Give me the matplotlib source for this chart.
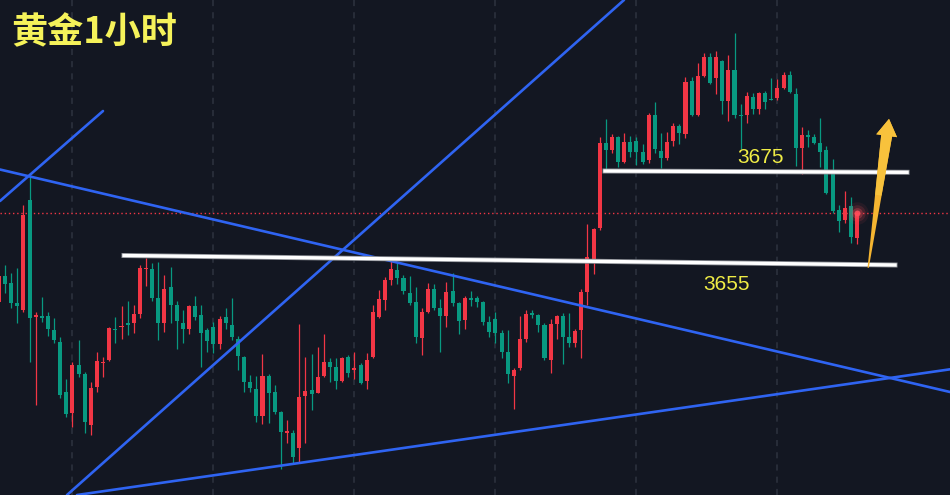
import matplotlib.pyplot as plt
import matplotlib.patheffects as pe
from matplotlib.patches import Polygon
from matplotlib.transforms import IdentityTransform
import numpy as np

# 黄金 1小时 K线 (索引 0..140)
opens = [3646.2, 3651.9, 3650.3, 3645.9, 3644.3, 3668.8, 3642.8, 3643.0, 3643.0, 3639.9,
         3637.3, 3626.0, 3621.4, 3632.1, 3630.1, 3618.8, 3627.3, 3632.5, 3633.2, 3640.2,
         3640.5, 3641.4, 3641.5, 3643.4, 3653.4, 3653.4, 3647.1, 3641.5, 3649.4, 3645.4,
         3641.4, 3640.0, 3645.2, 3643.2, 3639.9, 3640.5, 3636.8, 3642.7, 3641.0, 3637.8,
         3633.9, 3628.4, 3626.7, 3620.8, 3629.7, 3626.0, 3621.6, 3617.1, 3617.1, 3613.6,
         3625.2, 3626.5, 3625.9, 3629.7, 3632.8, 3631.6, 3628.6, 3633.8, 3631.1, 3632.1,
         3628.6, 3633.8, 3642.7, 3646.5, 3651.1, 3653.2, 3651.4, 3648.2, 3646.2, 3638.0,
         3643.9, 3648.9, 3644.7, 3643.0, 3648.5, 3645.8, 3642.1, 3646.9, 3646.9, 3646.2,
         3641.7, 3642.3, 3639.3, 3635.1, 3629.7, 3631.4, 3637.8, 3643.6, 3643.2, 3641.0,
         3633.2, 3641.2, 3643.0, 3638.4, 3637.1, 3639.9, 3648.4, 3655.6, 3662.5, 3681.5,
         3679.9, 3682.7, 3677.3, 3681.7, 3681.9, 3679.5, 3677.6, 3687.6, 3679.7, 3678.2,
         3681.9, 3685.2, 3683.4, 3695.3, 3687.6, 3696.3, 3700.6, 3695.8, 3699.7, 3690.8,
         3697.6, 3687.6, 3687.6, 3691.7, 3689.1, 3692.5, 3691.2, 3691.4, 3693.6, 3696.5,
         3692.3, 3680.3, 3683.2, 3682.7, 3681.5, 3679.9, 3675.1, 3666.5, 3664.3, 3667.4,
         3660.3]
highs = [3653.2, 3654.3, 3652.5, 3653.6, 3667.6, 3673.9, 3643.9, 3647.3, 3643.9, 3642.5,
         3638.4, 3629.1, 3632.8, 3637.7, 3630.6, 3628.4, 3635.1, 3633.8, 3640.6, 3642.8,
         3645.2, 3646.4, 3645.4, 3654.3, 3655.8, 3654.8, 3654.9, 3652.1, 3653.8, 3646.4,
         3644.3, 3645.4, 3647.4, 3645.4, 3640.3, 3641.7, 3643.0, 3644.7, 3646.9, 3638.5,
         3634.1, 3629.9, 3629.7, 3634.5, 3630.0, 3627.7, 3621.8, 3619.9, 3617.7, 3641.2,
         3633.8, 3634.5, 3636.0, 3639.1, 3633.6, 3633.6, 3633.9, 3634.3, 3635.1, 3632.6,
         3634.7, 3645.4, 3648.8, 3651.7, 3655.3, 3654.8, 3652.1, 3651.9, 3649.4, 3644.7,
         3650.3, 3650.1, 3646.7, 3650.6, 3652.6, 3646.2, 3647.4, 3648.6, 3647.4, 3646.4,
         3643.0, 3643.9, 3639.9, 3639.9, 3631.4, 3643.0, 3644.3, 3644.3, 3643.4, 3641.4,
         3642.3, 3643.2, 3643.6, 3643.6, 3640.0, 3648.9, 3663.4, 3662.5, 3682.7, 3686.7,
         3683.4, 3683.1, 3683.7, 3683.0, 3682.7, 3681.2, 3688.2, 3690.6, 3683.6, 3683.9,
         3685.8, 3685.7, 3696.0, 3696.0, 3699.3, 3701.4, 3701.4, 3701.9, 3699.9, 3701.0,
         3705.9, 3690.2, 3692.8, 3692.6, 3692.8, 3693.0, 3695.8, 3695.6, 3697.3, 3697.5,
         3693.6, 3684.9, 3684.3, 3683.4, 3687.1, 3680.8, 3677.8, 3667.6, 3670.8, 3669.4,
         3666.2]
lows = [3645.9, 3648.1, 3644.7, 3641.4, 3643.9, 3632.8, 3623.2, 3641.7, 3638.5, 3636.9,
        3624.7, 3620.6, 3618.4, 3629.5, 3616.9, 3616.5, 3626.2, 3629.5, 3633.1, 3636.9,
        3637.8, 3638.8, 3639.3, 3642.5, 3649.7, 3646.4, 3637.7, 3639.5, 3641.4, 3635.6,
        3636.9, 3639.1, 3642.1, 3631.7, 3635.1, 3634.8, 3635.6, 3640.0, 3637.7, 3631.0,
        3626.2, 3626.2, 3619.5, 3619.1, 3619.3, 3621.2, 3609.1, 3614.7, 3610.3, 3610.3,
        3614.7, 3622.1, 3625.8, 3629.5, 3628.4, 3626.7, 3628.4, 3629.5, 3629.1, 3627.9,
        3626.7, 3633.6, 3642.5, 3644.3, 3649.9, 3650.1, 3647.9, 3645.4, 3636.9, 3634.3,
        3643.7, 3644.3, 3635.1, 3640.6, 3645.2, 3639.0, 3640.0, 3645.2, 3645.1, 3641.0,
        3638.4, 3636.9, 3633.6, 3628.2, 3622.3, 3631.0, 3637.3, 3642.5, 3639.5, 3633.2,
        3630.3, 3637.8, 3632.3, 3636.0, 3636.0, 3633.6, 3645.4, 3652.3, 3662.1, 3675.4,
        3679.2, 3676.2, 3676.9, 3678.4, 3676.5, 3676.8, 3677.1, 3679.3, 3675.8, 3677.6,
        3680.8, 3681.2, 3682.5, 3687.4, 3687.4, 3696.0, 3694.5, 3692.3, 3687.9, 3686.4,
        3686.9, 3680.2, 3685.8, 3687.9, 3687.9, 3689.1, 3690.9, 3691.1, 3693.4, 3692.6,
        3676.3, 3674.5, 3680.6, 3681.2, 3676.2, 3670.1, 3665.9, 3661.7, 3663.7, 3659.3,
        3659.0]
closes = [3651.9, 3650.1, 3645.9, 3645.2, 3665.4, 3642.5, 3643.2, 3642.5, 3640.0, 3637.7,
          3625.4, 3621.2, 3632.1, 3630.1, 3619.5, 3626.9, 3633.0, 3632.8, 3640.3, 3639.9,
          3640.8, 3641.1, 3643.4, 3653.6, 3653.6, 3646.9, 3641.5, 3649.1, 3645.4, 3641.9,
          3640.0, 3645.2, 3642.8, 3639.3, 3637.5, 3636.8, 3642.3, 3641.4, 3638.3, 3634.1,
          3628.4, 3626.9, 3620.8, 3629.7, 3625.8, 3621.7, 3617.3, 3617.3, 3611.7, 3624.9,
          3626.3, 3625.6, 3629.5, 3632.8, 3631.6, 3628.6, 3633.6, 3630.4, 3631.5, 3628.2,
          3633.2, 3643.9, 3646.7, 3651.1, 3653.4, 3651.4, 3648.6, 3645.9, 3638.4, 3643.9,
          3649.1, 3644.7, 3643.0, 3648.4, 3645.9, 3641.9, 3646.9, 3646.5, 3646.2, 3641.7,
          3639.5, 3639.3, 3635.1, 3630.1, 3631.0, 3637.8, 3643.4, 3643.2, 3641.0, 3633.6,
          3641.2, 3643.0, 3638.4, 3636.9, 3639.7, 3648.4, 3656.2, 3662.3, 3681.4, 3679.9,
          3682.7, 3677.3, 3681.6, 3679.5, 3679.5, 3677.3, 3687.6, 3680.0, 3678.2, 3681.7,
          3685.2, 3683.6, 3695.1, 3687.6, 3696.3, 3700.6, 3694.8, 3700.6, 3690.8, 3697.6,
          3687.6, 3687.4, 3691.9, 3689.1, 3692.5, 3690.6, 3691.0, 3693.6, 3696.5, 3692.8,
          3680.3, 3683.2, 3682.7, 3681.5, 3679.5, 3670.3, 3666.4, 3664.2, 3666.9, 3660.6,
          3665.8]

# 每天开盘那根K线(竖虚线)
day_starts = [12, 35, 58, 81, 104, 127]

# 画线: (K线索引, 价格)
blue_lines = [
    [(0.18, 3675.55), (155.15, 3626.11)],
    [(0.18, 3668.55), (16.98, 3688.55)],
    [(11.11, 3603.22), (101.97, 3713.22)],
    [(12.74, 3603.22), (155.15, 3631.15)],
]
white_lines = [
    [(20.41, 3656.44), (146.18, 3654.33)],
    [(98.87, 3675.22), (148.14, 3674.93)],
]
level_labels = ['3675', '3655']
label_pos = [(124.3, 3678.3), (118.7, 3650.1)]
arrow_from = (141.8, 3653.7)
arrow_to = (145.2, 3686.8)

bg = '#131722'
up_col = '#f23645'
down_col = '#089981'

fig = plt.figure(figsize=(9.5, 4.95), dpi=100, facecolor=bg)
ax = fig.add_axes([0, 0, 1, 1])
ax.set_facecolor(bg)
ax.set_xlim(0.18, 155.15)
ax.set_ylim(3603.22, 3713.22)
ax.axis('off')

for d in day_starts:
    ax.axvline(d, color='#2e3340', lw=1.1, ls=(0, (4, 4)), zorder=1)

# 当前价虚线
ax.axhline(closes[-1], color=up_col, lw=1.0, ls=(0, (1, 2)), zorder=2)

x = np.arange(len(opens))
o = np.array(opens)
c = np.array(closes)
colors = [up_col if cc >= oo else down_col for oo, cc in zip(o, c)]
bottom = np.minimum(o, c)
height = np.maximum(np.abs(c - o), 0.25)
ax.vlines(x, lows, highs, colors=colors, lw=0.9, zorder=3)
ax.bar(x, height, bottom=bottom, width=0.66, color=colors, linewidth=0, zorder=4)

# 最新价光点
for s, a in [(260, 0.08), (140, 0.15), (60, 0.3), (18, 0.9)]:
    ax.scatter(x[-1], closes[-1], s=s, color='#ff4d5a', alpha=a, linewidths=0, zorder=5)

for ln in blue_lines:
    xs, ys = zip(*ln)
    ax.plot(xs, ys, color='#2f64f2', lw=1.9, solid_capstyle='round', zorder=6)

for ln in white_lines:
    xs, ys = zip(*ln)
    ax.plot(xs, ys, color='white', lw=2.4, zorder=7,
            path_effects=[pe.Stroke(linewidth=3.6, foreground='#8a8d94'), pe.Normal()])

for txt, (lx, ly) in zip(level_labels, label_pos):
    ax.text(lx, ly, txt, color='#efec45', fontsize=15, ha='center', va='center',
            family=['Liberation Sans', 'DejaVu Sans'], zorder=8)

# 上涨箭头: 尾部尖细, 往上变宽
p0 = ax.transData.transform(arrow_from)
p1 = ax.transData.transform(arrow_to)
d = (p1 - p0) / np.linalg.norm(p1 - p0)
n = np.array([-d[1], d[0]])
head_len, head_w, shaft_w = 17, 10.5, 5.5
base = p1 - d * head_len
pts = [p0 + n * 0.6, base + n * shaft_w, base + n * head_w, p1,
       base - n * head_w, base - n * shaft_w, p0 - n * 0.6]
arrow = Polygon(pts, closed=True, transform=IdentityTransform(),
                facecolor='#f5b531', edgecolor='none', zorder=9)
ax.add_patch(arrow)
# 上半段颜色偏黄
mid = p0 + (base - p0) * 0.55
pts2 = [mid + n * shaft_w * 0.58, base + n * shaft_w, base + n * head_w, p1,
        base - n * head_w, base - n * shaft_w, mid - n * shaft_w * 0.58]
ax.add_patch(Polygon(pts2, closed=True, transform=IdentityTransform(),
                     facecolor='#f8c23c', edgecolor='none', zorder=9))

fig.text(0.012, 0.972, '黄金1小时', color='#f5f25a', fontsize=26, fontweight='bold',
         family=['Noto Sans CJK SC', 'DejaVu Sans'], ha='left', va='top')

fig.savefig('out.png', dpi=100, facecolor=bg)
